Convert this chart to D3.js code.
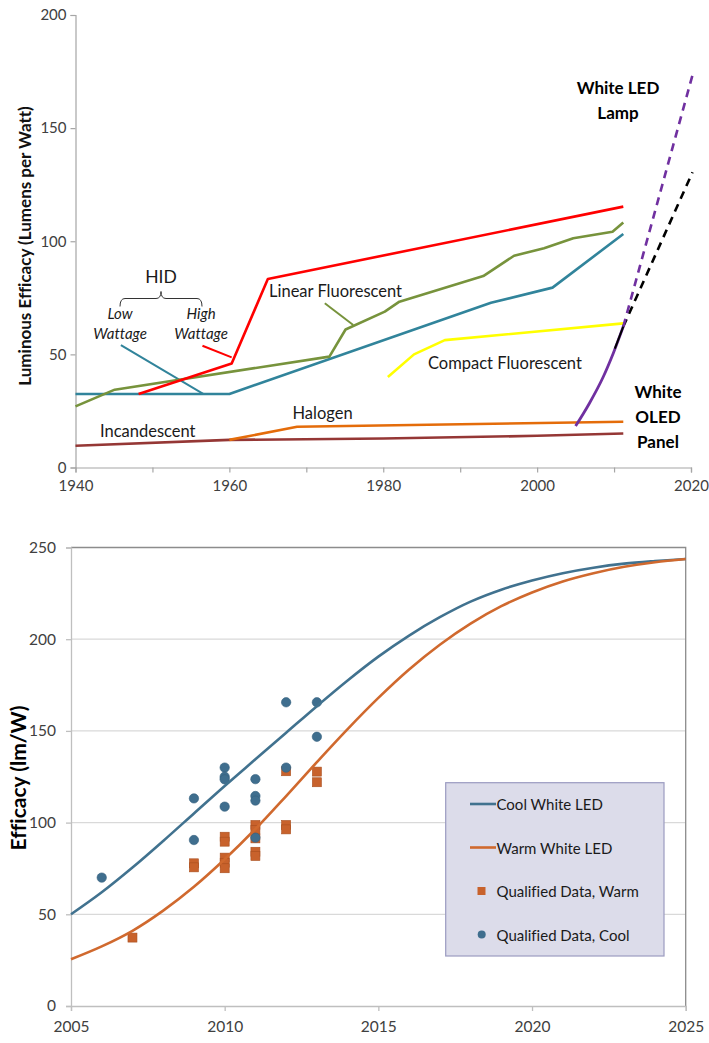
<!DOCTYPE html>
<html>
<head>
<meta charset="utf-8">
<script src="https://cdn.jsdelivr.net/npm/d3@7"></script>
<style>
  html, body { margin: 0; padding: 0; background: #fff; }
  svg { display: block; font-family: Lato, "Open Sans", sans-serif; font-variant-ligatures: none; }
</style>
</head>
<body>
<svg id="chart" width="709" height="1043"></svg>
<script>
// ---------- Upper panel: luminous efficacy by lamp technology, 1940-2020 ----------
const incandescent = [[1940, 9.6], [1960, 12.2], [1980, 12.8], [2000, 14], [2011.2, 15]];
const halogen = [[1960, 12.2], [1968.8, 18], [2011.2, 20.2]];
const hidHighWattage = [[1948.2, 32.5], [1960.3, 46], [1965, 83.3], [2011.2, 115.3]];
const hidLowWattage = [[1940, 32.5], [1960, 32.5], [1994, 72.8], [2002, 79.5], [2011.2, 103.2]];
const linearFluorescent = [[1940, 27], [1945.1, 34.4], [1973, 49], [1975.1, 61], [1980.2, 68.9],
  [1982.1, 73.3], [1993, 84.6], [1997, 93.6], [2000.9, 96.9], [2004.7, 101.3], [2009.8, 104.2], [2011.2, 108.3]];
const compactFluorescent = [[1980.6, 40], [1984, 50], [1988, 56.3], [2011.2, 63.7]];
const whiteOled = [[2005, 18.3], [2006.8, 28.4], [2008.6, 40.1], [2009.9, 50.5], [2011.2, 62.3]];
const whiteLedLamp = [[2010.1, 52.5], [2011.2, 62.3]];
const ledProjectionHigh = [[2011.2, 62.3], [2020.2, 173.5]];
const ledProjectionLow = [[2011.2, 62.3], [2020.2, 130.5]];
const topYTicks = [0, 50, 100, 150, 200];
const topXTicks = [1940, 1950, 1960, 1970, 1980, 1990, 2000, 2010, 2020];
const topXLabels = [1940, 1960, 1980, 2000, 2020];

// ---------- Lower panel: LED efficacy projections ----------
const curveYears = [2005, 2006, 2007, 2008, 2009, 2010, 2011, 2012, 2013, 2014, 2015,
  2016, 2017, 2018, 2019, 2020, 2021, 2022, 2023, 2024, 2025];
const coolWhiteLed = [50, 62, 75.5, 90, 105, 120, 134.5, 149, 163.5, 177.5, 190.5,
  202, 212, 220.5, 227, 232, 236, 239, 241.2, 242.6, 243.7];
const warmWhiteLed = [25.5, 32.5, 41, 52, 65, 80, 96.5, 114.5, 133, 151, 168,
  183.5, 197, 208.5, 218, 225.5, 231.5, 236, 239.5, 242, 243.7];
const qualifiedWarm = [[2007, 37.3], [2009, 77.8], [2009, 75.6], [2010, 92.3], [2010, 89.6],
  [2010, 80.9], [2010, 78.1], [2010, 75.1], [2011, 98.7], [2011, 96], [2011, 91.4],
  [2011, 84.1], [2011, 81.8], [2012, 128], [2012, 98.7], [2012, 96.3], [2013, 127.8], [2013, 122]];
const qualifiedCool = [[2006, 70], [2009, 113.2], [2009, 90.5], [2010, 130], [2010, 125],
  [2010, 123.6], [2010, 108.7], [2011, 123.7], [2011, 114.5], [2011, 112], [2011, 91.8],
  [2012, 165.6], [2012, 130], [2013, 165.6], [2013, 146.8]];
const bottomYTicks = [0, 50, 100, 150, 200, 250];
const bottomXTicks = [2005, 2010, 2015, 2020, 2025];

const svg = d3.select("#chart");
const tickColor = "#404040";
const axisGray = "#a6a6a6";

// ===== Upper panel =====
const xTop = d3.scaleLinear().domain([1940, 2020]).range([75.5, 691]);
const yTop = d3.scaleLinear().domain([0, 200]).range([467.5, 15]);
const upper = svg.append("g");

const topLeftAxis = upper.append("g")
  .attr("transform", `translate(${xTop.range()[0]},0)`)
  .call(d3.axisLeft(yTop).tickValues(topYTicks).tickSize(5).tickPadding(4));
const topBottomAxis = upper.append("g")
  .attr("transform", `translate(0,${yTop(0)})`)
  .call(d3.axisBottom(xTop).tickValues(topXTicks).tickSize(5).tickPadding(8)
    .tickFormat(d => topXLabels.includes(d) ? String(d) : ""));
[topLeftAxis, topBottomAxis].forEach(a => {
  a.select(".domain").attr("stroke", axisGray).attr("stroke-width", 1.2);
  a.selectAll(".tick line").attr("stroke", axisGray).attr("stroke-width", 1.2);
  a.selectAll(".tick text").attr("fill", tickColor).attr("font-size", 15)
    .attr("font-family", "Lato, sans-serif");
});

upper.append("text")
  .attr("transform", "translate(24,246) rotate(-90)")
  .attr("text-anchor", "middle").attr("dominant-baseline", "central")
  .attr("font-size", 17).attr("font-weight", "bold").attr("fill", "#111")
  .text("Luminous Efficacy (Lumens per Watt)");

const lineTop = d3.line().x(d => xTop(d[0])).y(d => yTop(d[1]));
const lineTopSmooth = d3.line().x(d => xTop(d[0])).y(d => yTop(d[1])).curve(d3.curveMonotoneX);

// leader lines for annotations (data coordinates)
const leaders = [
  { pts: [[1945.9, 54.1], [1956.6, 32.5]], color: "#31849b" },
  { pts: [[1956.5, 53.8], [1960.3, 48.7]], color: "#ff0000" },
  { pts: [[1972.4, 72.6], [1976.1, 63]], color: "#77933c" }
];
leaders.forEach(l => upper.append("path").attr("d", lineTop(l.pts))
  .attr("fill", "none").attr("stroke", l.color).attr("stroke-width", 2));

const topSeries = [
  { data: incandescent, color: "#953735" },
  { data: halogen, color: "#e46c0a" },
  { data: hidLowWattage, color: "#31849b" },
  { data: linearFluorescent, color: "#77933c" },
  { data: hidHighWattage, color: "#ff0000" },
  { data: compactFluorescent, color: "#ffff00" }
];
topSeries.forEach(s => upper.append("path").attr("d", lineTop(s.data))
  .attr("fill", "none").attr("stroke", s.color).attr("stroke-width", 2.6)
  .attr("stroke-linejoin", "round"));

upper.append("path").attr("d", lineTop(ledProjectionLow))
  .attr("fill", "none").attr("stroke", "#000").attr("stroke-width", 2.6)
  .attr("stroke-dasharray", "8,6");
upper.append("path").attr("d", lineTop(ledProjectionHigh))
  .attr("fill", "none").attr("stroke", "#7030a0").attr("stroke-width", 2.6)
  .attr("stroke-dasharray", "8,6");
upper.append("path").attr("d", lineTopSmooth(whiteOled))
  .attr("fill", "none").attr("stroke", "#7030a0").attr("stroke-width", 2.8);
upper.append("path").attr("d", lineTop(whiteLedLamp))
  .attr("fill", "none").attr("stroke", "#000").attr("stroke-width", 2);

// annotations
const label = (x, y, txt, opts = {}) => upper.append("text")
  .attr("x", x).attr("y", y)
  .attr("text-anchor", opts.anchor || "start")
  .attr("font-size", opts.size || 16.5)
  .attr("font-weight", opts.weight || "normal")
  .attr("font-style", opts.style || "normal")
  .attr("fill", opts.fill || "#1a1a1a")
  .text(txt);

label(161, 282.5, "HID", { anchor: "middle", size: 17.5 });
upper.append("path")
  .attr("d", "M120,306.5 Q120,298.5 125,298.5 L156,298.5 Q161,298.5 161,291.5 Q161,298.5 166,298.5 L197,298.5 Q202,298.5 202,306.5")
  .attr("fill", "none").attr("stroke", "#333").attr("stroke-width", 1);
label(120, 318.5, "Low", { anchor: "middle", size: 15, style: "italic" });
label(120, 338.5, "Wattage", { anchor: "middle", size: 15, style: "italic" });
label(201, 318.5, "High", { anchor: "middle", size: 15, style: "italic" });
label(201, 338.5, "Wattage", { anchor: "middle", size: 15, style: "italic" });
label(269, 297, "Linear Fluorescent");
label(428, 369, "Compact Fluorescent");
label(292.5, 418.5, "Halogen");
label(100, 436.5, "Incandescent");
label(618, 93.5, "White LED", { anchor: "middle", size: 17, weight: "bold", fill: "#000" });
label(618, 119, "Lamp", { anchor: "middle", size: 17, weight: "bold", fill: "#000" });
label(658, 397.5, "White", { anchor: "middle", size: 17, weight: "bold", fill: "#000" });
label(658, 422.5, "OLED", { anchor: "middle", size: 17, weight: "bold", fill: "#000" });
label(658, 447.5, "Panel", { anchor: "middle", size: 17, weight: "bold", fill: "#000" });

// ===== Lower panel =====
const xBot = d3.scaleLinear().domain([2005, 2025]).range([71, 685.7]);
const yBot = d3.scaleLinear().domain([0, 250]).range([1006, 547.5]);
const lower = svg.append("g");

// horizontal gridlines
lower.append("g").selectAll("line").data(bottomYTicks.filter(v => v > 0 && v < 250)).join("line")
  .attr("x1", xBot(2005)).attr("x2", xBot(2025))
  .attr("y1", d => yBot(d)).attr("y2", d => yBot(d))
  .attr("stroke", "#d9d9d9").attr("stroke-width", 1.2);

// plot frame: top and right edges
lower.append("path")
  .attr("d", `M${xBot(2005)},${yBot(250)} H${xBot(2025)} V${yBot(0)}`)
  .attr("fill", "none").attr("stroke", "#8c8c8c").attr("stroke-width", 1.3);

const botLeftAxis = lower.append("g")
  .attr("transform", `translate(${xBot(2005)},0)`)
  .call(d3.axisLeft(yBot).tickValues(bottomYTicks).tickSize(5).tickPadding(10));
const botBottomAxis = lower.append("g")
  .attr("transform", `translate(0,${yBot(0)})`)
  .call(d3.axisBottom(xBot).tickValues(bottomXTicks).tickSize(5).tickPadding(10).tickFormat(d3.format("d")));
[botLeftAxis, botBottomAxis].forEach(a => {
  a.select(".domain").attr("stroke", "#bfbfbf").attr("stroke-width", 1.3);
  a.selectAll(".tick line").attr("stroke", "#bfbfbf").attr("stroke-width", 1.3);
  a.selectAll(".tick text").attr("fill", tickColor).attr("font-size", 15.5)
    .attr("font-family", "Lato, sans-serif");
});

lower.append("text")
  .attr("transform", "translate(17,778) rotate(-90)")
  .attr("text-anchor", "middle").attr("dominant-baseline", "central")
  .attr("font-size", 21).attr("font-weight", "bold").attr("fill", "#000")
  .text("Efficacy (lm/W)");

const coolColor = "#41728f";
const warmColor = "#d0692e";
const lineBot = d3.line().x((d, i) => xBot(curveYears[i])).y(d => yBot(d)).curve(d3.curveCatmullRom.alpha(0.5));

const sq = 9;
lower.append("g").selectAll("rect").data(qualifiedWarm).join("rect")
  .attr("x", d => xBot(d[0]) - sq / 2).attr("y", d => yBot(d[1]) - sq / 2)
  .attr("width", sq).attr("height", sq)
  .attr("fill", "#c8622c").attr("stroke", "#a94f1f").attr("stroke-width", 0.6);
lower.append("g").selectAll("circle").data(qualifiedCool).join("circle")
  .attr("cx", d => xBot(d[0])).attr("cy", d => yBot(d[1])).attr("r", 4.7)
  .attr("fill", "#3f6e8e").attr("stroke", "#34607e").attr("stroke-width", 0.6);

lower.append("path").attr("d", lineBot(coolWhiteLed))
  .attr("fill", "none").attr("stroke", coolColor).attr("stroke-width", 2.6);
lower.append("path").attr("d", lineBot(warmWhiteLed))
  .attr("fill", "none").attr("stroke", warmColor).attr("stroke-width", 2.6);

// legend
const legend = lower.append("g");
legend.append("rect").attr("x", 445.7).attr("y", 782.7).attr("width", 218.3).attr("height", 173.3)
  .attr("fill", "#dcdcea").attr("stroke", "#9b9bc0").attr("stroke-width", 1.2);
const legendItems = [
  { type: "line", color: coolColor, text: "Cool White LED", y: 804 },
  { type: "line", color: warmColor, text: "Warm White LED", y: 847.5 },
  { type: "square", color: "#c8622c", text: "Qualified Data, Warm", y: 891 },
  { type: "circle", color: "#3f6e8e", text: "Qualified Data, Cool", y: 934.5 }
];
legendItems.forEach(it => {
  if (it.type === "line") {
    legend.append("line").attr("x1", 470).attr("x2", 496).attr("y1", it.y).attr("y2", it.y)
      .attr("stroke", it.color).attr("stroke-width", 2.6);
  } else if (it.type === "square") {
    legend.append("rect").attr("x", 477.5).attr("y", it.y - 4).attr("width", 8).attr("height", 8)
      .attr("fill", it.color);
  } else {
    legend.append("circle").attr("cx", 481.7).attr("cy", it.y).attr("r", 4).attr("fill", it.color);
  }
  legend.append("text").attr("x", 496.5).attr("y", it.y).attr("dominant-baseline", "central")
    .attr("font-size", 15).attr("fill", "#1a1a1a").text(it.text);
});
</script>
</body>
</html>
